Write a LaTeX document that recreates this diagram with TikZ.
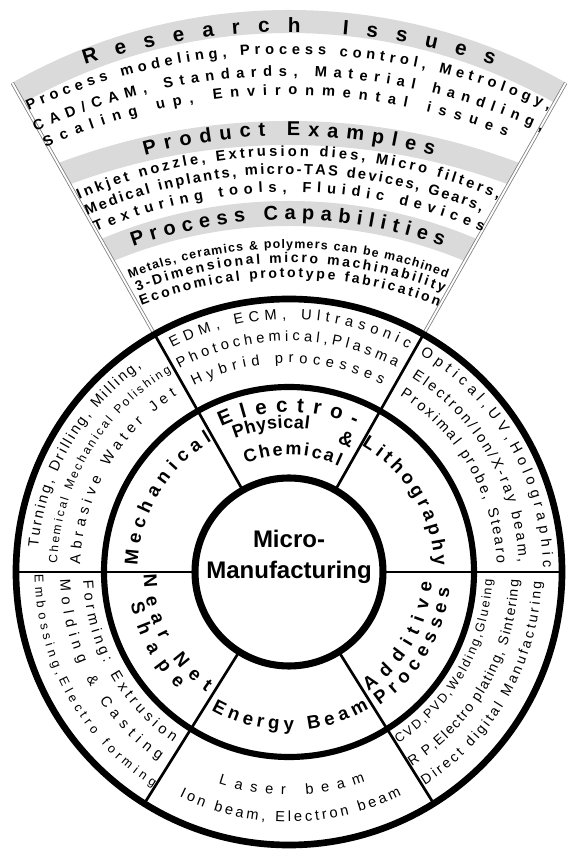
\documentclass[tikz,border=0pt]{standalone}
\usepackage{fontspec}
\setmainfont{Liberation Sans}
\usetikzlibrary{decorations.text}
\definecolor{band}{RGB}{218,218,218}
\definecolor{rim}{RGB}{125,125,125}
\tikzset{
  ring/.style={draw=black,line width=#1},
  ring/.default=5pt,
  divider/.style={draw=black,line width=2pt},
  fanedge/.style={draw=rim,line width=0.6pt,double=white,double distance=1.4pt},
  hub/.style={font=\fontsize{18}{23}\selectfont\bfseries,align=center,inner sep=0pt},
  amp/.style={font=\fontsize{15}{15}\selectfont\bfseries,inner sep=0pt},
}
\newcommand{\arclabel}[6][0,0]{%
  \path[decorate,decoration={text along path,text align=fit to path,
    raise=-0.34*#2,text={|\fontsize{#2}{#2}\selectfont\lblweight|#6}}]
    ([shift={(#1)}]#4:#3) arc[start angle=#4,end angle=#5,radius=#3];}
\let\lblweight\bfseries
\begin{document}
\begin{tikzpicture}[x=0.75pt,y=0.75pt]
\path[use as bounding box,fill=white] (-289,-280) rectangle (283,572);
\begin{scope}
  \clip (0,0) -- (119.5:700) -- (60.5:700) -- cycle;
  \fill[band,even odd rule] (0,0) circle (562) (0,0) circle (539);
  \fill[band,even odd rule] (0,-200) circle (651) (0,-200) circle (627);
  \fill[band,even odd rule] (0,-110) circle (481) (0,-110) circle (456);
\end{scope}
\foreach \a in {60.5,119.5} \draw[fanedge] (\a:273) -- (\a:562);
\draw[ring] (0,0) circle (273);
\draw[ring=4.6pt] (0,0) circle (185);
\draw[ring=5.3pt] (0,0) circle (94);
\foreach \a in {0,60.5,119.5,180,238,302} \draw[divider] (\a:94) -- (\a:273);
\node[hub] (hub) at (0,15) {Micro-\\Manufacturing};
% fan
\arclabel[0,-110]{15.5pt}{657}{108.3}{71.7}{Research Issues}
\arclabel[0,-110]{11pt}{633}{114.5}{65.6}{Process modeling, Process control, Metrology,}
\arclabel[0,-110]{11pt}{611}{114.7}{65.4}{CAD/CAM, Standards, Material handling,}
\arclabel[0,-110]{11pt}{592}{114.5}{68.3}{Scaling up, Environmental issues}
\arclabel[0,-110]{15pt}{553}{105.3}{74.7}{Product Examples}
\arclabel[0,-110]{11pt}{531}{113.5}{66.6}{Inkjet nozzle, Extrusion dies, Micro filters,}
\arclabel[0,-110]{11pt}{513}{113.4}{67.8}{Medical inplants, micro-TAS devices, Gears,}
\arclabel[0,-110]{11pt}{495}{113.2}{66.8}{Texturing tools, Fluidic devices}
\arclabel[0,-110]{15pt}{469}{109.7}{70.6}{Process Capabilities}
\arclabel[0,-110]{9.3pt}{438}{111.5}{68.7}{Metals, ceramics {\&} polymers can be machined}
\arclabel[0,-110]{10.5pt}{424}{111.2}{68.4}{3-Dimensional micro machinability}
\arclabel[0,-110]{10.5pt}{409}{111.4}{68.3}{Economical prototype fabrication}
% inner ring
\arclabel{14pt}{158}{177.5}{120.5}{Mechanical}
\arclabel{15.5pt}{167}{115}{65.5}{Electro-}
\arclabel{13.5pt}{150}{112}{82}{Physical}
\node[amp,rotate=-23.4] (amp) at (66.6:145) {\&};
\arclabel{13.5pt}{123}{111.5}{64.8}{Chemical}
\arclabel{14pt}{152}{60}{2.5}{Lithography}
\arclabel{14pt}{139}{181}{235.5}{Near Net}
\arclabel{14pt}{155}{191}{226.5}{Shape}
\arclabel{14pt}{152}{240.5}{300.5}{Energy Beam}
\arclabel{14pt}{137}{303.5}{356}{Additive}
\arclabel{14pt}{155}{304}{354.5}{Processes}
% outer ring
\let\lblweight\mdseries
\arclabel{11pt}{258}{117.5}{61.9}{EDM, ECM, Ultrasonic}
\arclabel{11pt}{236}{118.3}{62.4}{Photochemical,Plasma}
\arclabel{11pt}{214}{117}{63.6}{Hybrid processes}
\arclabel{11pt}{257}{174.5}{125.8}{Turning, Drilling, Milling,}
\arclabel{9pt}{236}{178}{120.5}{Chemical Mechanical Polishing}
\arclabel{11pt}{214}{177.8}{122.5}{Abrasive Water Jet}
\arclabel{11pt}{259}{59}{1}{Optical,UV,Holographic}
\arclabel{11pt}{235}{57.8}{2.3}{Electron/Ion/X-ray beam,}
\arclabel{11pt}{213}{57.8}{2.3}{Proximal probe, Stearo}
\arclabel{11pt}{201}{182.3}{235.8}{Forming: Extrusion}
\arclabel{11pt}{224}{181.8}{235.5}{Molding {\&} Casting}
\arclabel{9.5pt}{250}{180.5}{237.7}{Embossing,Electro forming}
\arclabel{11pt}{218}{251.5}{290}{Laser beam}
\arclabel{11pt}{245}{244}{296.8}{Ion beam, Electron beam}
\arclabel{9.5pt}{199}{302.5}{358}{CVD,PVD,Welding,Glueing}
\arclabel{10.5pt}{225}{302.3}{358}{R P,Electro plating, Sintering}
\arclabel{10.5pt}{248}{302.5}{357.8}{Direct digital Manufacturing}
\end{tikzpicture}
\end{document}
